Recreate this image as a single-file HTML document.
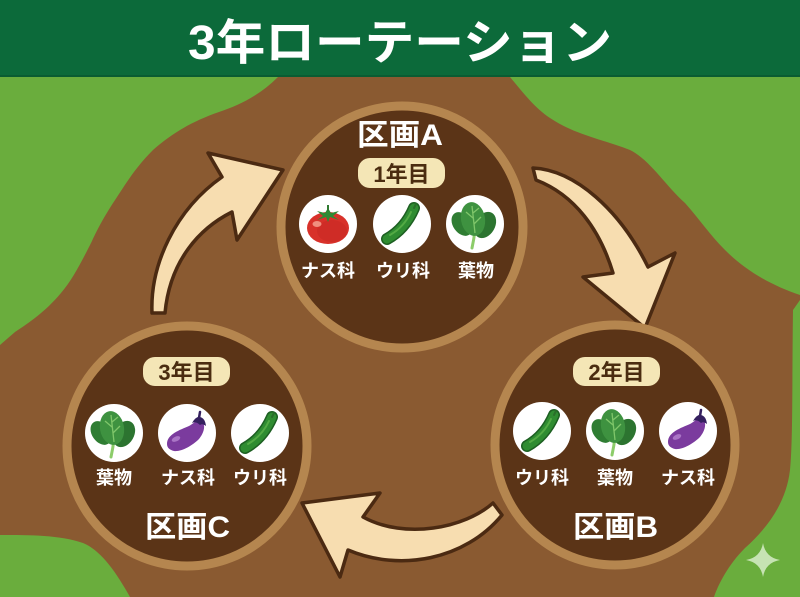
<!DOCTYPE html>
<html lang="ja">
<head>
<meta charset="utf-8">
<style>
  html,body{margin:0;padding:0;background:#6aad3d;}
  body{width:800px;height:597px;overflow:hidden;}
  svg{display:block;}
  .t{font-family:"Liberation Sans","Noto Sans CJK JP",sans-serif;font-weight:bold;}
</style>
</head>
<body>
<svg width="800" height="597" viewBox="0 0 800 597" xmlns="http://www.w3.org/2000/svg">
  <defs>
    <!-- Tomato -->
    <symbol id="tomato" viewBox="-29 -29 58 58" overflow="visible">
      <circle r="29" fill="#ffffff"/>
      <ellipse cx="0" cy="4" rx="21" ry="16" fill="#d8312a"/>
      <ellipse cx="4" cy="7" rx="15" ry="11" fill="#c92a24" opacity="0.6"/>
      <ellipse cx="-11" cy="0" rx="4.5" ry="3" fill="#f4a08e" opacity="0.85"/>
      <polygon points="0,-16 3,-11 11,-13 5,-8 11,-4 2,-7 0,-2 -2,-7 -11,-4 -5,-8 -11,-13 -3,-11" fill="#2f8a34"/>
      <rect x="-1" y="-19" width="2" height="6" fill="#2f7a30"/>
    </symbol>
    <!-- Cucumber -->
    <symbol id="cucumber" viewBox="-29 -29 58 58" overflow="visible">
      <circle r="29" fill="#ffffff"/>
      <path d="M-15,15 Q3,5 12,-16" stroke="#1d5f22" stroke-width="12" fill="none" stroke-linecap="round"/>
      <path d="M-15,15 Q3,5 12,-16" stroke="#2f8c31" stroke-width="9" fill="none" stroke-linecap="round"/>
      <path d="M-12,11 Q2,3 9,-12" stroke="#5cb24a" stroke-width="2" fill="none" stroke-linecap="round" opacity="0.8"/>
      <path d="M12,-16 L14,-20" stroke="#2a6e2a" stroke-width="2" stroke-linecap="round"/>
    </symbol>
    <!-- Spinach -->
    <symbol id="spinach" viewBox="-29 -29 58 58" overflow="visible">
      <circle r="29" fill="#ffffff"/>
      <path d="M0,6 Q-1,15 -3,24" stroke="#8ccc6a" stroke-width="3" fill="none" stroke-linecap="round"/>
      <ellipse cx="-13" cy="0" rx="9" ry="13" transform="rotate(-35 -13 0)" fill="#2f7d33"/>
      <ellipse cx="10" cy="1" rx="10" ry="14" transform="rotate(30 10 1)" fill="#2c7430"/>
      <ellipse cx="-2" cy="-5" rx="12" ry="17" transform="rotate(-10 -2 -5)" fill="#3e9240"/>
      <path d="M0,9 L-3,-18 M-2,-6 L-9,-12 M-1,0 L6,-7 M-2,-11 L4,-16" stroke="#7fc66a" stroke-width="1.3" fill="none"/>
    </symbol>
    <!-- Eggplant -->
    <symbol id="eggplant" viewBox="-29 -29 58 58" overflow="visible">
      <circle r="29" fill="#ffffff"/>
      <path d="M-20,11 C-20,1 -7,-3 2,-7 C7,-10 10,-14 15,-11 C19,-8 17,0 12,6 C5,13 -6,19 -13,18 C-17,17 -20,15 -20,11 Z" fill="#7b3b9e"/>
      <ellipse cx="-11" cy="6" rx="4.5" ry="2.4" transform="rotate(-25 -11 6)" fill="#b784d0" opacity="0.8"/>
      <path d="M5,-10 Q9,-17 13,-16 Q18,-15 19,-7 Q15,-10 13,-8 Q9,-12 5,-10 Z" fill="#35205f"/>
      <path d="M12,-15 L13,-21" stroke="#35205f" stroke-width="2.5" stroke-linecap="round"/>
    </symbol>
  </defs>

  <!-- grass background -->
  <rect x="0" y="0" width="800" height="597" fill="#6aad3d"/>

  <!-- brown field blob -->
  <path d="M278,77 L510,77
           C525,95 535,108 550,118
           C575,135 605,140 630,150
           C650,160 665,185 685,203
           C700,220 710,235 725,250
           C745,270 770,285 800,295
           L800,300 L793,310
           C792,380 793,440 790,470
           C786,505 765,530 745,548
           C728,565 718,585 714,597
           L130,597
           C115,570 100,550 83,543
           C60,535 30,535 0,535
           L0,345
           L15,332
           C30,322 45,312 61,293
           C72,280 80,265 92,241
           C98,228 105,215 117,197
           C125,185 135,168 153,150
           C170,135 190,122 219,112
           C240,105 260,95 278,77 Z" fill="#8a5a31"/>

  <!-- header -->
  <rect x="0" y="0" width="800" height="77" fill="#0c6a3a"/>
  <rect x="0" y="75" width="800" height="2" fill="#0a5c32"/>
  <text class="t" x="188" y="59" font-size="48" fill="#ffffff" textLength="424" lengthAdjust="spacingAndGlyphs">3年ローテーション</text>

  <!-- arrows -->
  <g fill="#f7ddb0" stroke="#4b2a12" stroke-width="3.5" stroke-linejoin="round">
    <path d="M152,313 C150,265 175,210 222,177 L208,153 L283,170 L237,240 L232,212 C200,228 170,260 165,313 Z"/>
    <path d="M533,168 C575,170 620,210 648,267 L675,253 L645,328 L583,277 L613,273 C600,230 575,195 536,180 Z"/>
    <path d="M493,503 C465,528 405,540 363,517 L380,493 L302,503 L340,577 L348,550 C400,572 465,560 502,515 Z"/>
  </g>

  <!-- plot circles -->
  <g fill="#5b3417" stroke="#b5864f" stroke-width="9">
    <circle cx="402" cy="227" r="121"/>
    <circle cx="187" cy="446" r="120"/>
    <circle cx="615" cy="445" r="120"/>
  </g>

  <!-- Plot A -->
  <text class="t" x="357" y="145" font-size="30" fill="#ffffff" textLength="86" lengthAdjust="spacingAndGlyphs">区画A</text>
  <rect x="358" y="158" width="87" height="30" rx="12" fill="#f4e6b6"/>
  <text class="t" x="401.5" y="182" font-size="22" fill="#4a2c10" text-anchor="middle">1年目</text>
  <use href="#tomato" x="299" y="195" width="58" height="58"/>
  <use href="#cucumber" x="373" y="195" width="58" height="58"/>
  <use href="#spinach" x="446" y="195" width="58" height="58"/>
  <g class="t" font-size="18" fill="#ffffff" text-anchor="middle">
    <text x="328" y="277">ナス科</text>
    <text x="403" y="277">ウリ科</text>
    <text x="476" y="277">葉物</text>
  </g>

  <!-- Plot C -->
  <rect x="143" y="357" width="87" height="29" rx="12" fill="#f4e6b6"/>
  <text class="t" x="186.5" y="380" font-size="22" fill="#4a2c10" text-anchor="middle">3年目</text>
  <use href="#spinach" x="85" y="404" width="58" height="58"/>
  <use href="#eggplant" x="158" y="404" width="58" height="58"/>
  <use href="#cucumber" x="231" y="404" width="58" height="58"/>
  <g class="t" font-size="18" fill="#ffffff" text-anchor="middle">
    <text x="114" y="484">葉物</text>
    <text x="188" y="484">ナス科</text>
    <text x="260" y="484">ウリ科</text>
  </g>
  <text class="t" x="145" y="537" font-size="30" fill="#ffffff" textLength="85" lengthAdjust="spacingAndGlyphs">区画C</text>

  <!-- Plot B -->
  <rect x="573" y="357" width="87" height="29" rx="12" fill="#f4e6b6"/>
  <text class="t" x="616.5" y="380" font-size="22" fill="#4a2c10" text-anchor="middle">2年目</text>
  <use href="#cucumber" x="513" y="402" width="58" height="58"/>
  <use href="#spinach" x="586" y="402" width="58" height="58"/>
  <use href="#eggplant" x="659" y="402" width="58" height="58"/>
  <g class="t" font-size="18" fill="#ffffff" text-anchor="middle">
    <text x="542" y="484">ウリ科</text>
    <text x="615" y="484">葉物</text>
    <text x="688" y="484">ナス科</text>
  </g>
  <text class="t" x="573" y="537" font-size="30" fill="#ffffff" textLength="85" lengthAdjust="spacingAndGlyphs">区画B</text>

  <!-- sparkle -->
  <path d="M763,543 Q765.5,557.5 780,560 Q765.5,562.5 763,577 Q760.5,562.5 746,560 Q760.5,557.5 763,543 Z" fill="#d6ecc8" opacity="0.85"/>
</svg>
</body>
</html>
